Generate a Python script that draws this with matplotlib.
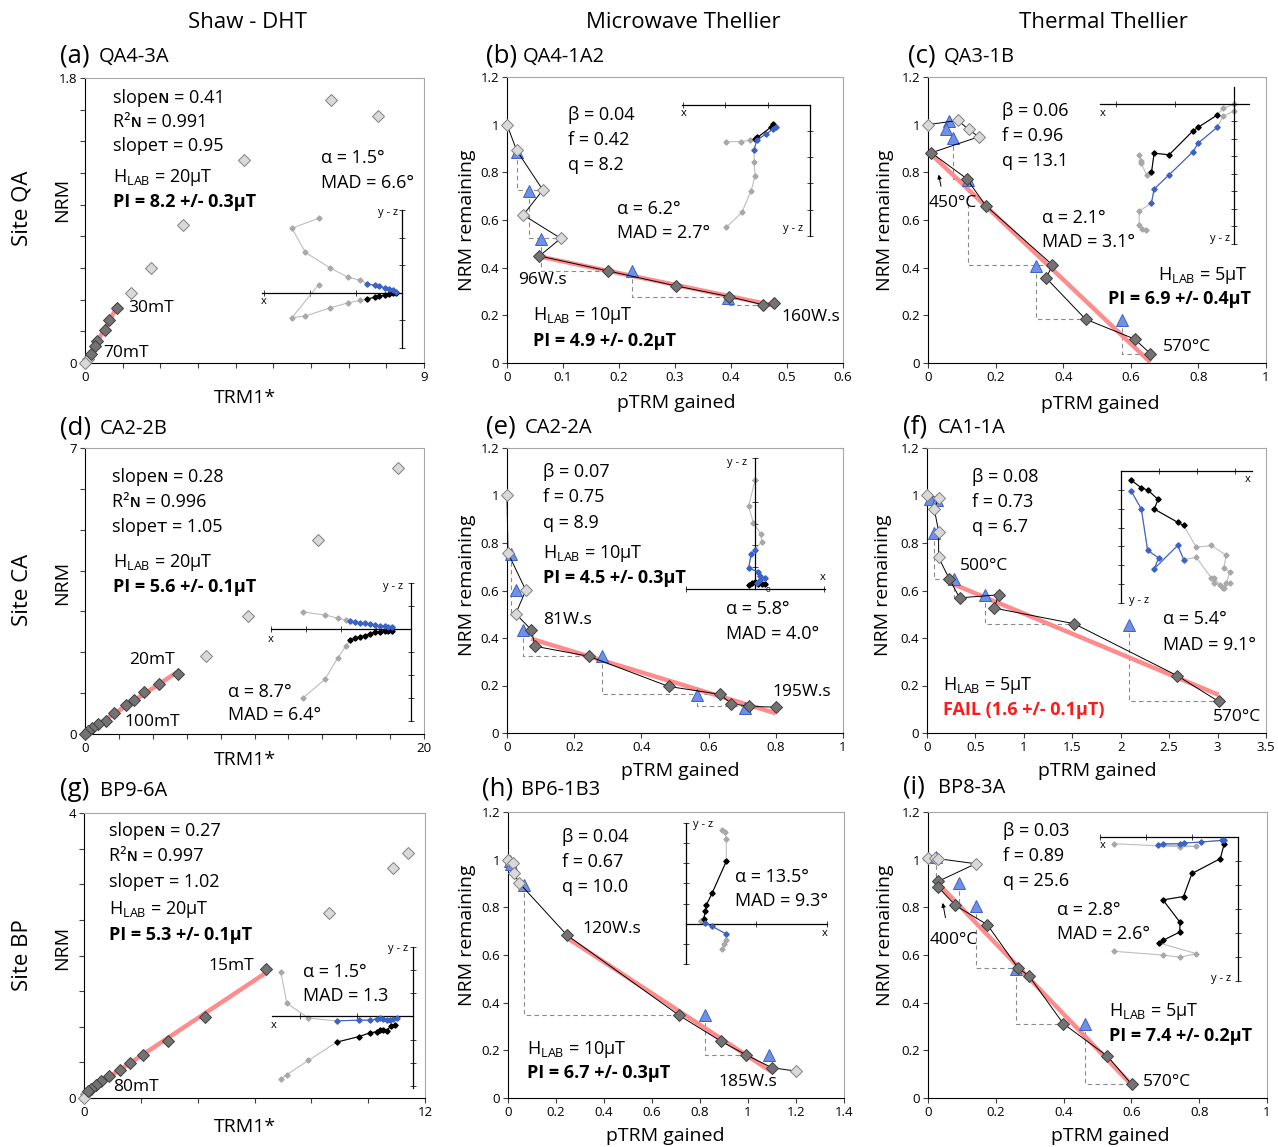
import numpy as np
import matplotlib
matplotlib.use('Agg')
import matplotlib.pyplot as plt
from matplotlib.ticker import MultipleLocator, FuncFormatter

plt.rcParams['font.family'] = ['Open Sans', 'DejaVu Sans']
plt.rcParams['mathtext.fontset'] = 'custom'
plt.rcParams['mathtext.rm'] = 'Open Sans'
plt.rcParams['mathtext.it'] = 'Open Sans:italic'
plt.rcParams['mathtext.bf'] = 'Open Sans:bold'

# ---------------- Shaw - DHT (NRM vs TRM1*) ----------------
a_lt_x = [6.54, 7.78, 4.22, 2.59, 1.75, 1.22, 0.07, 0.0]
a_lt_y = [1.66, 1.56, 1.28, 0.87, 0.60, 0.44, 0.025, 0.0]
a_fit_x = [0.84, 0.63, 0.52, 0.33, 0.26, 0.15]
a_fit_y = [0.345, 0.27, 0.21, 0.14, 0.11, 0.055]

d_lt_x = [18.47, 13.75, 9.59, 7.13]
d_lt_y = [6.51, 4.74, 2.89, 1.91]
d_fit_x = [5.46, 4.36, 3.48, 2.89, 2.40, 1.71, 1.22, 0.79, 0.43, 0.20, 0.0]
d_fit_y = [1.46, 1.23, 1.02, 0.84, 0.72, 0.51, 0.31, 0.25, 0.15, 0.07, 0.0]

g_lt_x = [11.4, 10.88, 8.61, 0.08, 0.0]
g_lt_y = [3.44, 3.23, 2.60, 0.05, 0.0]
g_fit_x = [6.39, 4.27, 2.95, 2.06, 1.63, 1.27, 0.88, 0.59, 0.41, 0.26, 0.15]
g_fit_y = [1.806, 1.137, 0.80, 0.60, 0.496, 0.40, 0.31, 0.234, 0.187, 0.13, 0.094]

# ---------------- Thellier (NRM remaining vs pTRM gained) ----------------
b_x = [0, 0.017, 0.064, 0.029, 0.096, 0.058, 0.181, 0.301, 0.396, 0.458, 0.476]
b_y = [1.0, 0.893, 0.726, 0.621, 0.523, 0.449, 0.386, 0.324, 0.279, 0.244, 0.251]
b_fit = [0, 0, 0, 0, 0, 1, 1, 1, 1, 1, 1]
b_ck_x = [0.017, 0.039, 0.061, 0.223, 0.395]
b_ck_y = [0.886, 0.723, 0.519, 0.384, 0.272]
b_ck_to = [2, 4, 6, 8, 9]

c_x = [0, 0.089, 0.12, 0.15, 0.01, 0.114, 0.171, 0.368, 0.35, 0.466, 0.612, 0.658]
c_y = [1.0, 1.018, 0.98, 0.949, 0.882, 0.774, 0.66, 0.412, 0.356, 0.184, 0.10, 0.039]
c_fit = [0, 0, 0, 0, 1, 1, 1, 1, 1, 1, 1, 1]
c_ck_x = [0.061, 0.052, 0.074, 0.118, 0.319, 0.573]
c_ck_y = [1.016, 0.981, 0.945, 0.767, 0.407, 0.179]
c_ck_to = [-1, -1, 5, 7, 9, 11]

e_x = [0, 0.003, 0.056, 0.026, 0.072, 0.084, 0.244, 0.481, 0.633, 0.668, 0.72, 0.80]
e_y = [1.0, 0.758, 0.601, 0.502, 0.435, 0.365, 0.323, 0.196, 0.163, 0.124, 0.112, 0.109]
e_fit = [0, 0, 0, 0, 1, 1, 1, 1, 1, 1, 1, 1]
e_ck_x = [0.011, 0.026, 0.049, 0.284, 0.565, 0.707]
e_ck_y = [0.752, 0.601, 0.432, 0.323, 0.159, 0.105]
e_ck_to = [3, -1, 6, 8, 10, -1]

f_x = [0, 0.12, 0.076, 0.12, 0.12, 0.23, 0.337, 0.74, 0.694, 1.52, 2.585, 3.01]
f_y = [1.0, 0.99, 0.942, 0.848, 0.739, 0.649, 0.569, 0.582, 0.526, 0.46, 0.241, 0.133]
f_fit = [0, 0, 0, 0, 0, 1, 1, 1, 1, 1, 1, 1]
f_ck_x = [0.027, 0.10, 0.076, 0.275, 0.595, 2.09]
f_ck_y = [0.986, 0.98, 0.844, 0.649, 0.579, 0.453]
f_ck_to = [-1, -1, 5, 6, 9, 11]

h_x = [0, 0.021, 0.024, 0.046, 0.246, 0.7125, 0.886, 0.99, 1.10, 1.20]
h_y = [1.0, 0.986, 0.944, 0.903, 0.683, 0.347, 0.239, 0.182, 0.127, 0.113]
h_fit = [0, 0, 0, 0, 1, 1, 1, 1, 1, 0]
h_ck_x = [0.007, 0.014, 0.065, 0.819, 1.088]
h_ck_y = [0.993, 0.983, 0.895, 0.35, 0.179]
h_ck_to = [-1, -1, 5, 7, -1]

i_x = [0, 0.02, 0.03, 0.141, 0.03, 0.03, 0.081, 0.175, 0.266, 0.298, 0.399, 0.529, 0.601]
i_y = [1.007, 1.007, 1.004, 0.983, 0.909, 0.885, 0.808, 0.727, 0.545, 0.512, 0.312, 0.176, 0.057]
i_fit = [0, 0, 0, 0, 1, 1, 1, 1, 1, 1, 1, 1, 1]
i_ck_x = [0.023, 0.092, 0.143, 0.261, 0.463]
i_ck_y = [1.01, 0.903, 0.804, 0.543, 0.312]
i_ck_to = [4, 6, 8, 10, 12]

# ---------------- Zijderveld insets (black / blue components) ----------------
a_zk_u = [-3.01, -3.98, -3.49, -2.59, -1.95, -1.51, -1.27, -0.99, -0.82, -0.60, -0.48, -0.34, -0.22]
a_zk_v = [0.30, -0.90, -0.84, -0.54, -0.36, -0.27, -0.22, -0.16, -0.12, -0.07, -0.05, -0.02, 0.0]
a_zk_fit = [0, 0, 0, 0, 0, 0, 1, 1, 1, 1, 1, 1, 1]
a_zb_u = [-3.01, -3.98, -3.49, -2.59, -1.95, -1.51, -1.27, -0.99, -0.82, -0.60, -0.48, -0.34, -0.22]
a_zb_v = [2.71, 2.35, 1.47, 0.90, 0.57, 0.46, 0.34, 0.27, 0.24, 0.18, 0.14, 0.12, 0.05]
a_zb_fit = [0, 0, 0, 0, 0, 0, 1, 1, 1, 1, 1, 1, 1]

b_zk_u = [-3.21, -2.64, -2.29, -2.10, -2.01, -1.50, -1.43]
b_zk_v = [-1.40, -1.40, -1.34, -1.30, -1.24, -0.85, -0.73]
b_zk_fit = [0, 0, 0, 1, 1, 1, 1]
b_zb_u = [-3.21, -2.61, -2.25, -2.10, -2.14, -2.14, -2.04, -1.68, -1.43, -1.30]
b_zb_v = [-4.68, -4.11, -3.27, -2.71, -2.17, -1.72, -1.34, -1.11, -0.93, -0.85]
b_zb_fit = [0, 0, 0, 0, 0, 1, 1, 1, 1, 1]

c_zk_u = [0, -0.62, -0.96, -2.04, -2.32, -3.68, -4.53, -4.68, -4.96, -5.30, -5.38, -5.25]
c_zk_v = [-0.04, -0.28, -0.66, -1.36, -1.55, -2.92, -2.83, -3.92, -4.06, -3.30, -2.92, -3.40]
c_zk_fit = [0, 0, 1, 1, 1, 1, 1, 1, 0, 0, 0, 0]
c_zb_u = [0, -0.62, -0.96, -2.04, -2.32, -3.68, -4.53, -4.68, -5.38, -5.38, -5.19, -5.0]
c_zb_v = [-0.42, -0.72, -1.36, -2.26, -2.74, -4.06, -4.87, -5.66, -6.13, -6.89, -7.13, -7.21]
c_zb_fit = [0, 0, 1, 1, 1, 1, 1, 1, 0, 0, 0, 0]

d_zk_u = [-4.64, -3.69, -3.14, -2.79, -2.61, -2.40, -2.19, -1.97, -1.76, -1.54, -1.33, -1.11, -0.97, -0.83]
d_zk_v = [-3.01, -2.19, -1.26, -0.74, -0.50, -0.40, -0.33, -0.29, -0.21, -0.14, -0.11, -0.07, -0.07, -0.07]
d_zk_fit = [0, 0, 0, 0, 1, 1, 1, 1, 1, 1, 1, 1, 1, 1]
d_zb_u = [-4.64, -3.69, -3.14, -2.79, -2.61, -2.40, -2.19, -1.97, -1.76, -1.54, -1.33, -1.11, -0.97, -0.83]
d_zb_v = [0.74, 0.61, 0.47, 0.39, 0.33, 0.30, 0.27, 0.24, 0.21, 0.17, 0.14, 0.13, 0.10, 0.07]
d_zb_fit = [0, 0, 0, 0, 1, 1, 1, 1, 1, 1, 1, 1, 1, 1]

e_zk_u = [-0.30, -0.15, 0, 0.15, 0.30, 0.45]
e_zk_v = [0.20, 0.27, 0.30, 0.24, 0.24, 0.21]
e_zk_fit = [1, 1, 1, 1, 1, 1]
e_zb_u = [0, -0.30, -0.08, 0.26, 0.30, 0, -0.18, -0.30, 0.11, 0.20, 0.45, 0.23, 0.08]
e_zb_v = [5.0, 3.79, 3.03, 2.52, 2.17, 1.79, 1.61, 0.95, 0.80, 0.58, 0.50, 0.39, 0.27]
e_zb_fit = [0, 0, 0, 0, 0, 1, 1, 1, 1, 1, 1, 1, 1]

f_zk_u = [0.54, 1.05, 1.42, 1.95, 1.75, 2.98, 3.30, 3.96, 4.75, 5.54, 5.40, 5.72, 5.54, 5.37, 4.88]
f_zk_v = [-0.49, -0.88, -1.02, -1.51, -2.02, -2.72, -2.89, -4.04, -3.95, -4.47, -5.14, -5.35, -5.96, -6.19, -5.67]
f_zk_fit = [1, 1, 1, 1, 1, 1, 1, 0, 0, 0, 0, 0, 0, 0, 0]
f_zb_u = [0.54, 1.07, 1.40, 1.98, 1.75, 2.98, 3.30, 3.96, 4.75, 4.88, 5.19, 5.40, 5.72]
f_zb_v = [-1.07, -2.02, -4.21, -4.61, -5.18, -3.95, -4.70, -4.58, -5.67, -5.96, -6.02, -6.19, -5.96]
f_zb_fit = [1, 1, 1, 1, 1, 1, 1, 0, 0, 0, 0, 0, 0]

g_zk_u = [-5.69, -5.43, -4.5, -3.29, -2.33, -1.86, -1.57, -1.43, -1.29, -1.14, -0.93, -0.79]
g_zk_v = [-2.71, -2.51, -1.90, -1.11, -0.87, -0.71, -0.66, -0.59, -0.57, -0.61, -0.40, -0.37]
g_zk_fit = [0, 0, 0, 1, 1, 1, 1, 1, 1, 1, 1, 1]
g_zb_u = [-5.69, -5.43, -4.5, -3.29, -2.33, -1.86, -1.57, -1.43, -1.29, -1.14, -1.0, -0.86, -0.71]
g_zb_v = [1.91, 0.57, -0.07, -0.19, -0.16, -0.16, -0.11, -0.07, -0.11, -0.16, -0.16, -0.11, -0.07]
g_zb_fit = [0, 0, 0, 1, 1, 1, 1, 1, 1, 1, 1, 1, 1]

h_zk_u = [1.77, 1.93, 1.98, 1.98, 1.28, 1.0, 0.95, 0.87, 0.74]
h_zk_v = [4.67, 4.54, 4.21, 3.10, 1.51, 0.93, 0.61, 0.25, 0.11]
h_zk_fit = [0, 0, 0, 1, 1, 1, 1, 1, 0]
h_zb_u = [1.77, 1.85, 1.98, 1.98, 1.28, 0.95, 0.74]
h_zb_v = [-1.28, -1.03, -0.79, -0.51, -0.13, 0.03, 0.11]
h_zb_fit = [0, 0, 0, 1, 1, 1, 0]

i_zk_u = [-5.14, -3.10, -2.39, -1.72, -3.28, -3.08, -2.41, -2.39, -3.10, -2.25, -1.90, -0.73, -0.57]
i_zk_v = [-4.76, -4.92, -5.01, -4.86, -4.41, -4.30, -3.96, -3.56, -2.62, -2.48, -1.52, -0.90, -0.28]
i_zk_fit = [0, 0, 0, 0, 1, 1, 1, 1, 1, 1, 1, 1, 1]
i_zb_u = [-5.14, -2.39, -1.72, -3.32, -3.10, -2.39, -2.22, -1.53, -0.66, -0.57]
i_zb_v = [-0.28, -0.41, -0.39, -0.32, -0.29, -0.28, -0.25, -0.21, -0.14, -0.11]
i_zb_fit = [0, 0, 0, 1, 1, 1, 1, 1, 1, 1]

# ---------------- figure ----------------
W, H = 1278, 1147
fig = plt.figure(figsize=(W / 100, H / 100), dpi=100)

LIGHT = dict(ls='none', marker='D', ms=6.2, mfc='#d9d9d9', mec='#808080', mew=0.7, clip_on=False, zorder=4)
DARK = dict(ls='none', marker='D', ms=6.2, mfc='#737373', mec='#3f3f3f', mew=0.7, clip_on=False, zorder=4)
RED = '#ff8c8c'
BLUE = '#3a62c8'
FS = 13        # statistics text
FS_LBL = 12.5  # step labels


def box(l, t, r, b):
    return fig.add_axes([l / W, 1 - b / H, (r - l) / W, (b - t) / H])


def txt(x, y, s, **kw):
    kw.setdefault('ha', 'left')
    kw.setdefault('va', 'center')
    kw.setdefault('fontsize', FS)
    fig.text(x / W, 1 - y / H, s, **kw)


def title(x, xn, y, tag, name):
    txt(x, y, tag, fontsize=18.5)
    txt(xn, y + 1, name, fontsize=14.5)


def frame(ax, xmax, xstep, ymax, ystep, ends=False):
    ax.set_xlim(0, xmax)
    ax.set_ylim(0, ymax)
    ax.xaxis.set_major_locator(MultipleLocator(xstep))
    ax.yaxis.set_major_locator(MultipleLocator(ystep))
    if ends:
        ax.xaxis.set_major_formatter(FuncFormatter(
            lambda v, p, m=xmax: f'{v:g}' if abs(v) < 1e-9 or abs(v - m) < 1e-9 else ''))
        ax.yaxis.set_major_formatter(FuncFormatter(
            lambda v, p, m=ymax: f'{v:g}' if abs(v) < 1e-9 or abs(v - m) < 1e-9 else ''))
    else:
        fmt = FuncFormatter(lambda v, p: f'{round(v, 3):g}')
        ax.xaxis.set_major_formatter(fmt)
        ax.yaxis.set_major_formatter(fmt)
    for s in ('top', 'right'):
        ax.spines[s].set_color('#a6a6a6')
    for s in ('left', 'bottom'):
        ax.spines[s].set_color('black')
    for s in ax.spines.values():
        s.set_linewidth(0.8)
    ax.tick_params(direction='out', length=3.5, width=0.8, labelsize=9.5, pad=2, color='#404040')


def shaw(ax, lx, ly, fx, fy):
    fx = np.asarray(fx)
    fy = np.asarray(fy)
    k, b0 = np.polyfit(fx, fy, 1)
    xs = np.array([fx.min(), fx.max()])
    ax.plot(xs, k * xs + b0, color=RED, lw=3.2, zorder=2, solid_capstyle='butt')
    ax.plot(lx, ly, **LIGHT)
    ax.plot(fx, fy, **DARK)


def thellier(ax, x, y, fit, ckx, cky, ckto):
    x = np.asarray(x)
    y = np.asarray(y)
    fit = np.asarray(fit, bool)
    for xc, yc, t in zip(ckx, cky, ckto):
        if t >= 0:
            ax.plot([xc, xc, x[t]], [yc, y[t], y[t]], ls=(0, (4, 3)), color='#8a8a8a', lw=0.8, zorder=1)
    k, b0 = np.polyfit(x[fit], y[fit], 1)
    xs = np.array([x[fit].min(), x[fit].max()])
    ax.plot(xs, k * xs + b0, color=RED, lw=3.2, zorder=2, solid_capstyle='butt')
    ax.plot(ckx, cky, ls='none', marker='^', ms=8.5, mfc='#6e90e6', mec='#3c5fc8', mew=0.7,
            clip_on=False, zorder=3)
    ax.plot(x, y, color='black', lw=0.7, zorder=3.5, clip_on=False)
    ax.plot(x[~fit], y[~fit], **LIGHT)
    ax.plot(x[fit], y[fit], **DARK)


def zij(pos, ku, kv, kf, bu, bv, bf, xlim, ylim, xstep):
    ax = box(*pos)
    ax.set_xlim(xlim)
    ax.set_ylim(ylim)
    ax.patch.set_alpha(0)
    ax.spines['top'].set_visible(False)
    ax.spines['right'].set_visible(False)
    ax.spines['left'].set_position(('data', 0))
    ax.spines['bottom'].set_position(('data', 0))
    for s in ('left', 'bottom'):
        ax.spines[s].set_linewidth(0.9)
    xt = [n * xstep for n in range(-10, 11)
          if n != 0 and xlim[0] - 0.05 <= n * xstep <= xlim[1] + 0.05]
    yt = [n for n in range(-10, 11) if n != 0 and ylim[0] - 0.05 <= n <= ylim[1] + 0.05]
    ax.set_xticks(xt)
    ax.set_yticks(yt)
    ax.tick_params(direction='inout', length=4, width=0.7, color='#404040',
                   labelbottom=False, labelleft=False)
    for u, v, f, c in ((ku, kv, kf, 'black'), (bu, bv, bf, BLUE)):
        u = np.asarray(u)
        v = np.asarray(v)
        f = np.asarray(f, bool)
        ax.plot(u, v, color='#bdbdbd', lw=0.8, marker='D', ms=2.6, mfc='#a8a8a8', mec='#a8a8a8',
                clip_on=False, zorder=2)
        ax.plot(u[f], v[f], color=c, lw=0.8, marker='D', ms=2.6, mfc=c, mec=c, clip_on=False, zorder=3)
    return ax


HL = r'H$_{\mathrm{LAB}}$'

# ---- column / row headers ----
txt(248, 22, 'Shaw - DHT', ha='center', fontsize=16)
txt(683, 22, 'Microwave Thellier', ha='center', fontsize=16)
txt(1103, 22, 'Thermal Thellier', ha='center', fontsize=16)
txt(22, 208, 'Site QA', ha='center', rotation=90, fontsize=16)
txt(22, 590, 'Site CA', ha='center', rotation=90, fontsize=16)
txt(22, 955, 'Site BP', ha='center', rotation=90, fontsize=16)

# ================= (a) =================
ax = box(85, 78, 424, 363)
frame(ax, 9, 1, 1.8, 0.2, ends=True)
shaw(ax, a_lt_x, a_lt_y, a_fit_x, a_fit_y)
title(60, 99, 56, '(a)', 'QA4-3A')
txt(245, 398, 'TRM1*', ha='center', fontsize=14)
txt(62, 200, 'NRM', ha='center', rotation=90, fontsize=14)
txt(113, 98, 'slopeɴ = 0.41')
txt(113, 122, 'R²ɴ = 0.991')
txt(113, 146, 'slopeᴛ = 0.95')
txt(113, 177, HL + ' = 20μT')
txt(113, 202, 'PI = 8.2 +/- 0.3μT', fontweight='bold')
txt(321, 158, 'α = 1.5°')
txt(321, 183, 'MAD = 6.6°')
txt(128, 308, '30mT', fontsize=FS_LBL)
txt(103, 353, '70mT', fontsize=FS_LBL)
zij((262, 210, 402, 348), a_zk_u, a_zk_v, a_zk_fit, a_zb_u, a_zb_v, a_zb_fit,
    (-5.06, 0), (-1.99, 3.01), 1.66)
txt(264, 302, 'x', ha='center', fontsize=8)
txt(398, 213, 'y - z', ha='right', fontsize=8)

# ================= (b) =================
ax = box(507, 77, 843, 363)
frame(ax, 0.6, 0.1, 1.2, 0.2)
thellier(ax, b_x, b_y, b_fit, b_ck_x, b_ck_y, b_ck_to)
title(486, 523, 56, '(b)', 'QA4-1A2')
txt(676, 403, 'pTRM gained', ha='center', fontsize=14)
txt(467, 220, 'NRM remaining', ha='center', rotation=90, fontsize=14)
txt(568, 115, 'β = 0.04')
txt(568, 140, 'f = 0.42')
txt(568, 165, 'q = 8.2')
txt(617, 209, 'α = 6.2°')
txt(617, 233, 'MAD = 2.7°')
txt(533, 316, HL + ' = 10μT')
txt(533, 341, 'PI = 4.9 +/- 0.2μT', fontweight='bold')
txt(518, 280, '96W.s', fontsize=FS_LBL)
txt(781, 317, '160W.s', fontsize=FS_LBL)
zij((682, 105, 810, 236), b_zk_u, b_zk_v, b_zk_fit, b_zb_u, b_zb_v, b_zb_fit,
    (-4.90, 0), (-5.01, 0), 1.62)
txt(684, 114, 'x', ha='center', fontsize=8)
txt(803, 228, 'y - z', ha='right', fontsize=8)

# ================= (c) =================
ax = box(928, 77, 1266, 363)
frame(ax, 1, 0.2, 1.2, 0.2)
thellier(ax, c_x, c_y, c_fit, c_ck_x, c_ck_y, c_ck_to)
title(908, 944, 56, '(c)', 'QA3-1B')
txt(1100, 404, 'pTRM gained', ha='center', fontsize=14)
txt(885, 220, 'NRM remaining', ha='center', rotation=90, fontsize=14)
txt(1002, 111, 'β = 0.06')
txt(1002, 136, 'f = 0.96')
txt(1002, 161, 'q = 13.1')
txt(1042, 218, 'α = 2.1°')
txt(1042, 242, 'MAD = 3.1°')
txt(1158, 275, HL + ' = 5μT')
txt(1108, 299, 'PI = 6.9 +/- 0.4μT', fontweight='bold')
txt(929, 203, '450°C', fontsize=FS_LBL)
txt(1163, 347, '570°C', fontsize=FS_LBL)
ax.annotate('', xy=(c_x[4] + 0.02, c_y[4] - 0.08), xytext=(0.04, 0.73),
            arrowprops=dict(arrowstyle='-|>', color='black', lw=0.7, mutation_scale=6))
zij((1100, 87, 1249, 244), c_zk_u, c_zk_v, c_zk_fit, c_zb_u, c_zb_v, c_zb_fit,
    (-7.60, 0.85), (-7.96, 0.94), 3.36)
txt(1103, 113, 'x', ha='center', fontsize=8)
txt(1230, 239, 'y - z', ha='right', fontsize=8)

# ================= (d) =================
ax = box(85, 448, 424, 734)
frame(ax, 20, 2, 7, 1, ends=True)
shaw(ax, d_lt_x, d_lt_y, d_fit_x, d_fit_y)
title(60, 100, 428, '(d)', 'CA2-2B')
txt(245, 760, 'TRM1*', ha='center', fontsize=14)
txt(62, 583, 'NRM', ha='center', rotation=90, fontsize=14)
txt(112, 477, 'slopeɴ = 0.28')
txt(112, 502, 'R²ɴ = 0.996')
txt(112, 527, 'slopeᴛ = 1.05')
txt(113, 562, HL + ' = 20μT')
txt(113, 587, 'PI = 5.6 +/- 0.1μT', fontweight='bold')
txt(228, 692, 'α = 8.7°')
txt(228, 715, 'MAD = 6.4°')
txt(129, 660, '20mT', fontsize=FS_LBL)
txt(124, 722, '100mT', fontsize=FS_LBL)
zij((271, 583, 411, 721), d_zk_u, d_zk_v, d_zk_fit, d_zb_u, d_zb_v, d_zb_fit,
    (-6.0, 0), (-3.97, 1.96), 1.5)
txt(271, 639, 'x', ha='center', fontsize=8)
txt(403, 586, 'y - z', ha='right', fontsize=8)

# ================= (e) =================
ax = box(507, 448, 843, 733)
frame(ax, 1, 0.2, 1.2, 0.2)
thellier(ax, e_x, e_y, e_fit, e_ck_x, e_ck_y, e_ck_to)
title(486, 525, 427, '(e)', 'CA2-2A')
txt(680, 771, 'pTRM gained', ha='center', fontsize=14)
txt(467, 585, 'NRM remaining', ha='center', rotation=90, fontsize=14)
txt(543, 472, 'β = 0.07')
txt(543, 497, 'f = 0.75')
txt(543, 523, 'q = 8.9')
txt(543, 554, HL + ' = 10μT')
txt(543, 578, 'PI = 4.5 +/- 0.3μT', fontweight='bold')
txt(726, 609, 'α = 5.8°')
txt(726, 634, 'MAD = 4.0°')
txt(543, 620, '81W.s', fontsize=FS_LBL)
txt(772, 692, '195W.s', fontsize=FS_LBL)
zij((686, 458, 825, 589), e_zk_u, e_zk_v, e_zk_fit, e_zb_u, e_zb_v, e_zb_fit,
    (-3.15, 3.18), (0, 5.98), 3.15)
txt(823, 578, 'x', ha='center', fontsize=8)
txt(747, 463, 'y - z', ha='right', fontsize=8)
txt(768, 590, '0', ha='center', fontsize=6)

# ================= (f) =================
ax = box(927, 448, 1266, 733)
frame(ax, 3.5, 0.5, 1.2, 0.2)
thellier(ax, f_x, f_y, f_fit, f_ck_x, f_ck_y, f_ck_to)
title(903, 938, 427, '(f)', 'CA1-1A')
txt(1097, 771, 'pTRM gained', ha='center', fontsize=14)
txt(883, 585, 'NRM remaining', ha='center', rotation=90, fontsize=14)
txt(972, 477, 'β = 0.08')
txt(972, 502, 'f = 0.73')
txt(972, 527, 'q = 6.7')
txt(1163, 619, 'α = 5.4°')
txt(1163, 645, 'MAD = 9.1°')
txt(943, 686, HL + ' = 5μT')
txt(943, 710, 'FAIL (1.6 +/- 0.1μT)', fontweight='bold', color='#ff1a1a')
txt(960, 566, '500°C', fontsize=FS_LBL)
txt(1213, 717, '570°C', fontsize=FS_LBL)
zij((1121, 471, 1252, 603), f_zk_u, f_zk_v, f_zk_fit, f_zb_u, f_zb_v, f_zb_fit,
    (0, 6.89), (-6.98, 0), 2.0)
txt(1248, 480, 'x', ha='center', fontsize=8)
txt(1129, 600, 'y - z', ha='left', fontsize=8)

# ================= (g) =================
ax = box(84, 813, 425, 1098)
frame(ax, 12, 2, 4, 0.5, ends=True)
shaw(ax, g_lt_x, g_lt_y, g_fit_x, g_fit_y)
title(60, 100, 790, '(g)', 'BP9-6A')
txt(245, 1127, 'TRM1*', ha='center', fontsize=14)
txt(62, 948, 'NRM', ha='center', rotation=90, fontsize=14)
txt(109, 831, 'slopeɴ = 0.27')
txt(109, 856, 'R²ɴ = 0.997')
txt(109, 882, 'slopeᴛ = 1.02')
txt(109, 910, HL + ' = 20μT')
txt(109, 935, 'PI = 5.3 +/- 0.1μT', fontweight='bold')
txt(303, 972, 'α = 1.5°')
txt(303, 996, 'MAD = 1.3')
txt(208, 966, '15mT', fontsize=FS_LBL)
txt(113, 1087, '80mT', fontsize=FS_LBL)
zij((272, 947, 413, 1088), g_zk_u, g_zk_v, g_zk_fit, g_zb_u, g_zb_v, g_zb_fit,
    (-6.07, 0), (-3.09, 2.96), 2.43)
txt(274, 1025, 'x', ha='center', fontsize=8)
txt(408, 948, 'y - z', ha='right', fontsize=8)

# ================= (h) =================
ax = box(508, 812, 844, 1098)
frame(ax, 1.4, 0.2, 1.2, 0.2)
thellier(ax, h_x, h_y, h_fit, h_ck_x, h_ck_y, h_ck_to)
title(482, 521, 789, '(h)', 'BP6-1B3')
txt(665, 1136, 'pTRM gained', ha='center', fontsize=14)
txt(467, 935, 'NRM remaining', ha='center', rotation=90, fontsize=14)
txt(562, 837, 'β = 0.04')
txt(562, 862, 'f = 0.67')
txt(562, 887, 'q = 10.0')
txt(735, 877, 'α = 13.5°')
txt(735, 901, 'MAD = 9.3°')
txt(527, 1050, HL + ' = 10μT')
txt(527, 1073, 'PI = 6.7 +/- 0.3μT', fontweight='bold')
txt(582, 929, '120W.s', fontsize=FS_LBL)
txt(718, 1082, '185W.s', fontsize=FS_LBL)
zij((686, 823, 827, 964), h_zk_u, h_zk_v, h_zk_fit, h_zb_u, h_zb_v, h_zb_fit,
    (0, 6.93), (-1.98, 4.98), 3.46)
txt(825, 933, 'x', ha='center', fontsize=8)
txt(693, 824, 'y - z', ha='left', fontsize=8)

# ================= (i) =================
ax = box(928, 812, 1267, 1098)
frame(ax, 1, 0.2, 1.2, 0.2)
thellier(ax, i_x, i_y, i_fit, i_ck_x, i_ck_y, i_ck_to)
title(903, 938, 787, '(i)', 'BP8-3A')
txt(1110, 1136, 'pTRM gained', ha='center', fontsize=14)
txt(885, 935, 'NRM remaining', ha='center', rotation=90, fontsize=14)
txt(1003, 831, 'β = 0.03')
txt(1003, 856, 'f = 0.89')
txt(1003, 881, 'q = 25.6')
txt(1057, 910, 'α = 2.8°')
txt(1057, 934, 'MAD = 2.6°')
txt(1109, 1011, HL + ' = 5μT')
txt(1109, 1036, 'PI = 7.4 +/- 0.2μT', fontweight='bold')
txt(930, 940, '400°C', fontsize=FS_LBL)
txt(1143, 1082, '570°C', fontsize=FS_LBL)
ax.annotate('', xy=(i_x[5] + 0.012, i_y[5] - 0.055), xytext=(0.053, 0.745),
            arrowprops=dict(arrowstyle='-|>', color='black', lw=0.7, mutation_scale=6))
zij((1100, 837, 1238, 981), i_zk_u, i_zk_v, i_zk_fit, i_zb_u, i_zb_v, i_zb_fit,
    (-5.70, 0), (-5.97, 0), 1.9)
txt(1103, 845, 'x', ha='center', fontsize=8)
txt(1231, 979, 'y - z', ha='right', fontsize=8)

fig.savefig('out.png', dpi=100)
